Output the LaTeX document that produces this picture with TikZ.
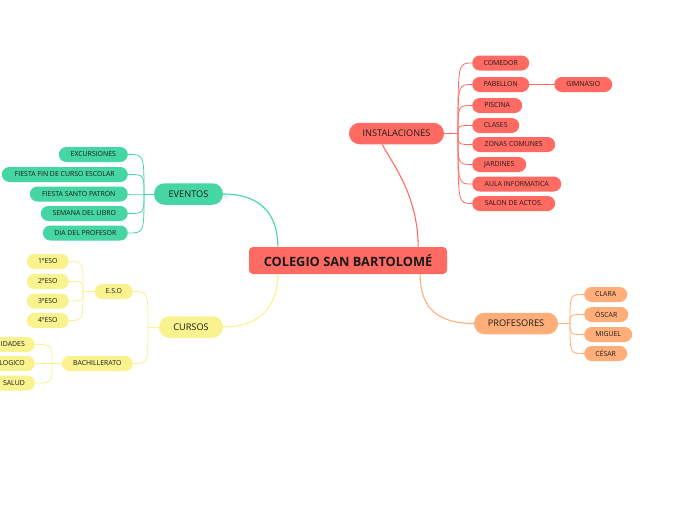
\documentclass[tikz,border=0pt]{standalone}
\usepackage{fontspec}
\setmainfont{Open Sans}
\usetikzlibrary{calc}
\definecolor{cred}{HTML}{FF6B63}
\definecolor{cteal}{HTML}{45D6A3}
\definecolor{cyel}{HTML}{F8F28F}
\definecolor{corg}{HTML}{FFAE7A}
\definecolor{ctext}{HTML}{1A1A1A}
\begin{document}
\begin{tikzpicture}[x=1pt,y=-1pt,
  rootbox/.style={fill=cred, rounded corners=4pt, minimum width=198pt, minimum height=27pt, inner sep=0pt, text=ctext, font=\fontsize{12.8}{15}\selectfont\bfseries},
  mainbox/.style={rounded corners=10.5pt, minimum height=21.5pt, inner sep=0pt, text=ctext, font=\fontsize{9.2}{11}\selectfont},
  leafbox/.style={rounded corners=7.5pt, minimum height=15pt, inner sep=0pt, text=ctext, font=\fontsize{6.9}{8}\selectfont},
  cutbox/.style={rounded corners=7.5pt, minimum height=15pt, inner ysep=0pt, inner xsep=10pt, text=ctext, font=\fontsize{6.9}{8}\selectfont},
  mainline/.style={line width=1.1pt},
  fanline/.style={line width=0.8pt}]
\useasboundingbox (0,0) rectangle (696,520);
\clip (0,0) rectangle (696,520);

% nodes
\node[rootbox] (root) at (348,260.5) {COLEGIO SAN BARTOLOMÉ};
\node[mainbox, fill=cred, minimum width=95pt] (inst) at (396.5,133.5) {INSTALACIONES};
\node[mainbox, fill=cteal, minimum width=69pt] (even) at (188.5,194) {EVENTOS};
\node[mainbox, fill=cyel, minimum width=64pt] (curs) at (191,327) {CURSOS};
\node[mainbox, fill=corg, minimum width=84pt] (prof) at (516,323.5) {PROFESORES};

% instalaciones children
\node[leafbox, fill=cred, anchor=west, minimum width=57pt] (i1) at (472,63) {COMEDOR};
\node[leafbox, fill=cred, anchor=west, minimum width=57pt] (i2) at (472,84.5) {PABELLON};
\node[leafbox, fill=cred, anchor=west, minimum width=50pt] (i3) at (472,105.5) {PISCINA};
\node[leafbox, fill=cred, anchor=west, minimum width=47pt] (i4) at (472,125.5) {CLASES};
\node[leafbox, fill=cred, anchor=west, minimum width=83pt] (i5) at (472,144.5) {ZONAS COMUNES};
\node[leafbox, fill=cred, anchor=west, minimum width=54pt] (i6) at (472,164.5) {JARDINES};
\node[leafbox, fill=cred, anchor=west, minimum width=89pt] (i7) at (472,184) {AULA INFORMATICA};
\node[leafbox, fill=cred, anchor=west, minimum width=83pt] (i8) at (472,203.5) {SALON DE ACTOS.};
\node[leafbox, fill=cred, anchor=west, minimum width=58pt] (gim) at (554,84.5) {GIMNASIO};

% eventos children
\node[leafbox, fill=cteal, anchor=east, minimum width=69pt] (e1) at (128,154.5) {EXCURSIONES};
\node[leafbox, fill=cteal, anchor=east, minimum width=126pt] (e2) at (128,174.5) {FIESTA FIN DE CURSO ESCOLAR};
\node[leafbox, fill=cteal, anchor=east, minimum width=98pt] (e3) at (128,194) {FIESTA SANTO PATRON};
\node[leafbox, fill=cteal, anchor=east, minimum width=87pt] (e4) at (128,213.5) {SEMANA DEL LIBRO};
\node[leafbox, fill=cteal, anchor=east, minimum width=85pt] (e5) at (128,233) {DIA DEL PROFESOR};

% profesores children
\node[leafbox, fill=corg, anchor=west, minimum width=43pt] (p1) at (584,294.5) {CLARA};
\node[leafbox, fill=corg, anchor=west, minimum width=44pt] (p2) at (584,314.5) {ÓSCAR};
\node[leafbox, fill=corg, anchor=west, minimum width=48pt] (p3) at (584,334.5) {MIGUEL};
\node[leafbox, fill=corg, anchor=west, minimum width=43pt] (p4) at (584,353.5) {CÉSAR};

% cursos children
\node[leafbox, fill=cyel, anchor=east, minimum width=38pt] (eso) at (133,291.5) {E.S.O};
\node[leafbox, fill=cyel, anchor=east, minimum width=71pt] (bach) at (133,363.5) {BACHILLERATO};
\node[leafbox, fill=cyel, anchor=east, minimum width=42pt] (s1) at (69,261.5) {1ºESO};
\node[leafbox, fill=cyel, anchor=east, minimum width=42pt] (s2) at (69,281.5) {2ºESO};
\node[leafbox, fill=cyel, anchor=east, minimum width=42pt] (s3) at (69,301) {3ºESO};
\node[leafbox, fill=cyel, anchor=east, minimum width=42pt] (s4) at (69,320.5) {4ºESO};
\node[cutbox, fill=cyel, anchor=east] (b1) at (35,344.5) {IDADES};
\node[cutbox, fill=cyel, anchor=east] (b2) at (35,363.5) {LOGICO};
\node[cutbox, fill=cyel, anchor=east] (b3) at (35,383) {SALUD};

% junction coordinates
\coordinate (ji) at (458,133.5);
\coordinate (je) at (144,194);
\coordinate (jp) at (570,323.5);
\coordinate (jc) at (148,327);
\coordinate (js) at (83,291.5);
\coordinate (jb) at (52,363.5);

% main branches
\draw[cred, mainline] ($(root.north)!0.707!(root.north east)$) .. controls (418,195) and (392,163) .. ($(inst.south)!0.3!(inst.south west)$);
\draw[cteal, mainline] (even.east) .. controls (264,194) and (278,218) .. ($(root.north)!0.707!(root.north west)$);
\draw[cyel, mainline] (curs.east) .. controls (264,327) and (278,302) .. ($(root.south)!0.707!(root.south west)$);
\draw[corg, mainline] ($(root.south)!0.727!(root.south east)$) .. controls (420,310) and (440,323.5) .. (prof.west);

% fans
\draw[cred, fanline] (inst.east) -- (ji);
\foreach \c in {i1,i2,i3,i4,i5,i6,i7,i8}
  \draw[cred, fanline] (ji) .. controls (ji |- \c.west) .. (\c.west);
\draw[cred, fanline] (i2.east) -- (gim.west);

\draw[cteal, fanline] (even.west) -- (je);
\foreach \c in {e1,e2,e3,e4,e5}
  \draw[cteal, fanline] (je) .. controls (je |- \c.east) .. (\c.east);

\draw[corg, fanline] (prof.east) -- (jp);
\foreach \c in {p1,p2,p3,p4}
  \draw[corg, fanline] (jp) .. controls (jp |- \c.west) .. (\c.west);

\draw[cyel, fanline] (curs.west) -- (jc);
\foreach \c in {eso,bach}
  \draw[cyel, fanline] (jc) .. controls (jc |- \c.east) .. (\c.east);

\draw[cyel, fanline] (eso.west) -- (js);
\foreach \c in {s1,s2,s3,s4}
  \draw[cyel, fanline] (js) .. controls (js |- \c.east) .. (\c.east);

\draw[cyel, fanline] (bach.west) -- (jb);
\foreach \c in {b1,b2,b3}
  \draw[cyel, fanline] (jb) .. controls (jb |- \c.east) .. (\c.east);
\end{tikzpicture}
\end{document}
